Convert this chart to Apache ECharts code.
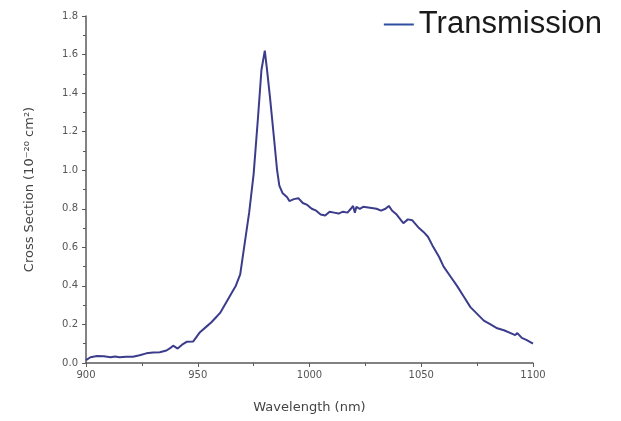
<!DOCTYPE html>
<html>
<head>
<meta charset="utf-8">
<script src="https://cdn.jsdelivr.net/npm/echarts@6/dist/echarts.min.js"></script>
<style>
  html, body { margin: 0; padding: 0; background: #fff; }
  #chart { width: 621px; height: 421px; }
</style>
</head>
<body>
<div id="chart"></div>
<script>
// wavelength (nm)
var wavelength = [
  900, 902, 905, 908, 911, 913, 915, 918, 921, 924, 927, 930, 933, 936, 938, 939, 941, 943, 945, 948,
  951, 954, 956, 958, 960, 962, 964, 966, 967, 969, 971, 973, 975, 977, 978.5, 980, 981, 982.3, 984, 985.5,
  986.5, 988, 990, 991, 993, 995, 997, 999, 1001, 1003, 1005, 1007, 1009, 1011, 1013, 1015, 1017, 1018.5, 1019.5, 1020.3,
  1021, 1022.5, 1024, 1027, 1030, 1032, 1034, 1035.5, 1037, 1039, 1041, 1042, 1044, 1046, 1049, 1051, 1053, 1055, 1058, 1060,
  1063, 1066, 1069, 1072, 1075, 1078, 1081, 1084, 1087, 1090, 1092, 1093, 1095, 1097, 1100
]
// cross section (1e-20 cm2)
var crossSection = [
  0.015, 0.03, 0.036, 0.035, 0.03, 0.034, 0.03, 0.033, 0.032, 0.04, 0.05, 0.055, 0.056, 0.065, 0.08, 0.09, 0.075, 0.095, 0.11, 0.112,
  0.16, 0.19, 0.21, 0.235, 0.26, 0.30, 0.34, 0.38, 0.40, 0.46, 0.62, 0.78, 0.98, 1.28, 1.52, 1.62, 1.52, 1.38, 1.18, 1.0,
  0.92, 0.88, 0.86, 0.84, 0.85, 0.855, 0.83, 0.82, 0.80, 0.79, 0.77, 0.765, 0.785, 0.78, 0.775, 0.785, 0.78, 0.80, 0.815, 0.78,
  0.81, 0.80, 0.81, 0.805, 0.80, 0.79, 0.80, 0.815, 0.79, 0.77, 0.74, 0.725, 0.745, 0.74, 0.70, 0.68, 0.655, 0.61, 0.55, 0.50,
  0.45, 0.40, 0.345, 0.29, 0.255, 0.22, 0.20, 0.18, 0.17, 0.155, 0.145, 0.155, 0.13, 0.12, 0.10
]

var seriesData = wavelength.map(function (w, i) { return [w, crossSection[i]] })

var axisGray = '#5a5a5a'
var labelFont = 'DejaVu Sans'
var myChart = echarts.init(document.getElementById('chart'))
myChart.setOption({
  backgroundColor: '#fff',
  animation: false,
  legend: {
    right: 14,
    top: 4,
    itemWidth: 30,
    itemHeight: 2,
    itemGap: 4,
    icon: 'rect',
    textStyle: { fontSize: 31, color: '#1a1a1a', fontFamily: 'Liberation Sans' },
    data: [{ name: 'Transmission', itemStyle: { color: '#2f4f9f' } }]
  },
  grid: {
    left: 86,
    right: 88,
    top: 16,
    bottom: 58
  },
  xAxis: {
    type: 'value',
    min: 900,
    max: 1100,
    interval: 50,
    name: 'Wavelength (nm)',
    nameLocation: 'middle',
    nameGap: 38,
    nameTextStyle: { fontSize: 13, color: '#444', fontFamily: labelFont },
    axisLine: { lineStyle: { color: axisGray, width: 1.5 } },
    axisTick: { length: 4, lineStyle: { color: axisGray } },
    minorTick: { show: true, splitNumber: 2, length: 3, lineStyle: { color: axisGray } },
    axisLabel: {
      fontSize: 10,
      color: '#555',
      fontFamily: labelFont,
      margin: 7,
      formatter: function (v) { return String(v) }
    },
    splitLine: { show: false }
  },
  yAxis: {
    type: 'value',
    min: 0,
    max: 1.8,
    interval: 0.2,
    name: 'Cross Section (10\u207B\u00B2\u2070 cm\u00B2)',
    nameLocation: 'middle',
    nameGap: 50,
    nameTextStyle: { fontSize: 13, color: '#444', fontFamily: labelFont },
    axisLine: { show: true, lineStyle: { color: axisGray, width: 1.5 } },
    axisTick: { show: true, length: 4, lineStyle: { color: axisGray } },
    minorTick: { show: true, splitNumber: 2, length: 3, lineStyle: { color: axisGray } },
    axisLabel: {
      fontSize: 10,
      color: '#555',
      fontFamily: labelFont,
      margin: 8,
      formatter: function (v) { return v.toFixed(1) }
    },
    splitLine: { show: false }
  },
  series: [
    {
      name: 'Transmission',
      type: 'line',
      data: seriesData,
      showSymbol: false,
      lineStyle: { color: '#3b3d8c', width: 2 },
      itemStyle: { color: '#3b3d8c' }
    }
  ]
})
</script>
</body>
</html>
